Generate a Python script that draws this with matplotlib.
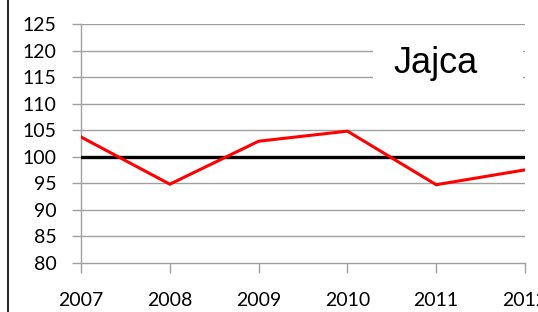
import matplotlib
matplotlib.use("Agg")
import matplotlib.pyplot as plt
from matplotlib.lines import Line2D
from matplotlib.patches import Rectangle

years = [2007, 2008, 2009, 2010, 2011, 2012]
values = [103.7, 94.8, 102.9, 104.8, 94.7, 97.5]
baseline = 100
yticks = [80, 85, 90, 95, 100, 105, 110, 115, 120, 125]
title = "Jajca"

W, H = 538, 312
fig = plt.figure(figsize=(W / 100, H / 100), dpi=100)
ax = fig.add_axes([81 / W, 1 - 262.7 / H, (525 - 81) / W, (262.7 - 24) / H])

grid_c = "#a0a0a0"
ax.set_xlim(years[0], years[-1])
ax.set_ylim(yticks[0], yticks[-1])
ax.set_yticks(yticks)
ax.set_xticks(years)
for y in yticks[1:]:
    ax.axhline(y, color=grid_c, lw=1.0, zorder=1)

ax.axhline(baseline, color="black", lw=2.4, zorder=3)
ax.plot(years, values, color="#ff0000", lw=2.2, zorder=4, solid_joinstyle="miter")

for s in ["top", "right"]:
    ax.spines[s].set_visible(False)
for s in ["left", "bottom"]:
    ax.spines[s].set_color(grid_c)
    ax.spines[s].set_linewidth(1.0)

ax.tick_params(axis="y", length=6.5, width=1.0, color=grid_c, pad=11,
               labelsize=14, labelcolor="#000000")
ax.tick_params(axis="x", length=7, width=1.0, color=grid_c, pad=14,
               labelsize=14, labelcolor="#000000")
for lab in ax.get_xticklabels() + ax.get_yticklabels():
    lab.set_fontfamily("Lato")

# white box behind title
fig.add_artist(Rectangle((373 / W, 1 - 90 / H), (523 - 373) / W, (90 - 36) / H,
                         transform=fig.transFigure, facecolor="white",
                         edgecolor="none", zorder=5))
fig.text(393 / W, 1 - 73 / H, title, fontsize=26, family="Liberation Sans",
         ha="left", va="baseline", color="black", zorder=6)

# left border line
fig.add_artist(Line2D([7.5 / W, 7.5 / W], [0, 1], transform=fig.transFigure,
                      color="black", lw=1.2))

fig.savefig("out.png", dpi=100)
